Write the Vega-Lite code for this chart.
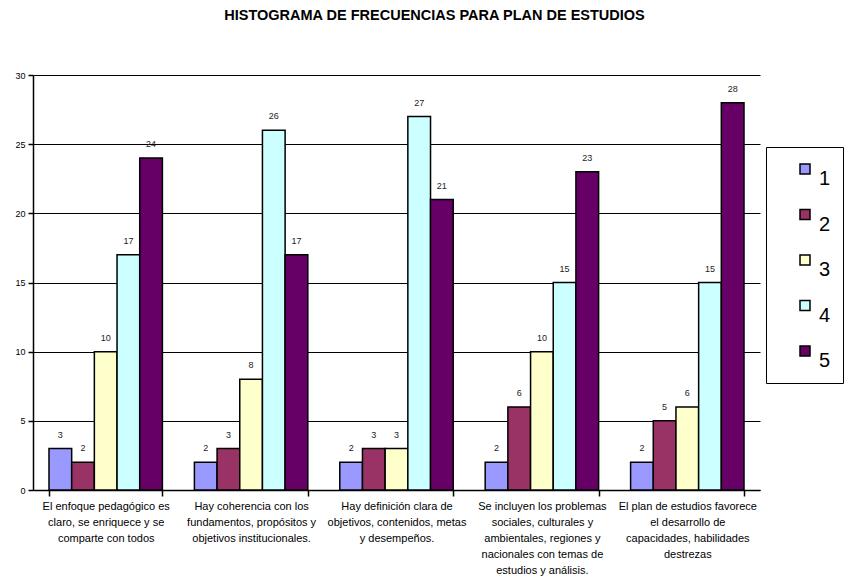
{
  "$schema": "https://vega.github.io/schema/vega-lite/v6.json",
  "autosize": "none",
  "width": 727,
  "height": 415,
  "padding": {"left": 33, "top": 75, "right": 88, "bottom": 89},
  "background": "white",
  "title": {
    "text": "HISTOGRAMA DE FRECUENCIAS PARA PLAN DE ESTUDIOS",
    "font": "Liberation Sans",
    "fontSize": 14.5,
    "fontWeight": "bold",
    "color": "black",
    "anchor": "middle",
    "dx": 38,
    "offset": 48
  },
  "data": {
    "values": [
      {"criterio": "El enfoque  pedagógico es|claro, se enriquece y se|comparte con todos", "nivel": "1", "frecuencia": 3},
      {"criterio": "El enfoque  pedagógico es|claro, se enriquece y se|comparte con todos", "nivel": "2", "frecuencia": 2},
      {"criterio": "El enfoque  pedagógico es|claro, se enriquece y se|comparte con todos", "nivel": "3", "frecuencia": 10},
      {"criterio": "El enfoque  pedagógico es|claro, se enriquece y se|comparte con todos", "nivel": "4", "frecuencia": 17},
      {"criterio": "El enfoque  pedagógico es|claro, se enriquece y se|comparte con todos", "nivel": "5", "frecuencia": 24},
      {"criterio": "Hay coherencia con los|fundamentos, propósitos y|objetivos institucionales.", "nivel": "1", "frecuencia": 2},
      {"criterio": "Hay coherencia con los|fundamentos, propósitos y|objetivos institucionales.", "nivel": "2", "frecuencia": 3},
      {"criterio": "Hay coherencia con los|fundamentos, propósitos y|objetivos institucionales.", "nivel": "3", "frecuencia": 8},
      {"criterio": "Hay coherencia con los|fundamentos, propósitos y|objetivos institucionales.", "nivel": "4", "frecuencia": 26},
      {"criterio": "Hay coherencia con los|fundamentos, propósitos y|objetivos institucionales.", "nivel": "5", "frecuencia": 17},
      {"criterio": "Hay definición  clara de|objetivos, contenidos, metas|y desempeños.", "nivel": "1", "frecuencia": 2},
      {"criterio": "Hay definición  clara de|objetivos, contenidos, metas|y desempeños.", "nivel": "2", "frecuencia": 3},
      {"criterio": "Hay definición  clara de|objetivos, contenidos, metas|y desempeños.", "nivel": "3", "frecuencia": 3},
      {"criterio": "Hay definición  clara de|objetivos, contenidos, metas|y desempeños.", "nivel": "4", "frecuencia": 27},
      {"criterio": "Hay definición  clara de|objetivos, contenidos, metas|y desempeños.", "nivel": "5", "frecuencia": 21},
      {"criterio": "Se incluyen los problemas|sociales, culturales y|ambientales, regiones y|nacionales con temas de|estudios y análisis.", "nivel": "1", "frecuencia": 2},
      {"criterio": "Se incluyen los problemas|sociales, culturales y|ambientales, regiones y|nacionales con temas de|estudios y análisis.", "nivel": "2", "frecuencia": 6},
      {"criterio": "Se incluyen los problemas|sociales, culturales y|ambientales, regiones y|nacionales con temas de|estudios y análisis.", "nivel": "3", "frecuencia": 10},
      {"criterio": "Se incluyen los problemas|sociales, culturales y|ambientales, regiones y|nacionales con temas de|estudios y análisis.", "nivel": "4", "frecuencia": 15},
      {"criterio": "Se incluyen los problemas|sociales, culturales y|ambientales, regiones y|nacionales con temas de|estudios y análisis.", "nivel": "5", "frecuencia": 23},
      {"criterio": "El plan de estudios favorece|el desarrollo de|capacidades, habilidades|destrezas", "nivel": "1", "frecuencia": 2},
      {"criterio": "El plan de estudios favorece|el desarrollo de|capacidades, habilidades|destrezas", "nivel": "2", "frecuencia": 5},
      {"criterio": "El plan de estudios favorece|el desarrollo de|capacidades, habilidades|destrezas", "nivel": "3", "frecuencia": 6},
      {"criterio": "El plan de estudios favorece|el desarrollo de|capacidades, habilidades|destrezas", "nivel": "4", "frecuencia": 15},
      {"criterio": "El plan de estudios favorece|el desarrollo de|capacidades, habilidades|destrezas", "nivel": "5", "frecuencia": 28}
    ]
  },
  "encoding": {
    "x": {
      "field": "criterio",
      "type": "nominal",
      "sort": null,
      "scale": {"paddingInner": 0.22, "paddingOuter": 0.11},
      "axis": {
        "title": null,
        "labelAngle": 0,
        "labelExpr": "split(datum.label, '|')",
        "labelFont": "Liberation Sans",
        "labelFontSize": 11,
        "labelLineHeight": 16,
        "labelColor": "black",
        "labelPadding": 4,
        "labelLimit": 0,
        "tickBand": "extent",
        "tickSize": 6,
        "tickColor": "black",
        "tickWidth": 1.5,
        "domainColor": "black",
        "domainWidth": 1.5,
        "grid": false
      }
    },
    "xOffset": {"field": "nivel", "type": "nominal", "scale": {"paddingInner": 0, "paddingOuter": 0}},
    "y": {
      "field": "frecuencia",
      "type": "quantitative",
      "scale": {"domain": [0, 30], "nice": false},
      "axis": {
        "title": null,
        "values": [0, 5, 10, 15, 20, 25, 30],
        "labelFont": "Liberation Sans",
        "labelFontSize": 9,
        "labelColor": "black",
        "labelPadding": 3,
        "tickSize": 5,
        "tickColor": "black",
        "tickWidth": 1.5,
        "domainColor": "black",
        "domainWidth": 1.5,
        "grid": true,
        "gridColor": "black",
        "gridWidth": 1,
        "gridOpacity": 1
      }
    }
  },
  "layer": [
    {
      "mark": {"type": "bar", "stroke": "black", "strokeWidth": 1.5},
      "encoding": {
        "color": {
          "field": "nivel",
          "type": "nominal",
          "scale": {"domain": ["1", "2", "3", "4", "5"], "range": ["#9999FF", "#993366", "#FFFFCC", "#CCFFFF", "#660066"]},
          "legend": {
            "title": null,
            "orient": "none",
            "legendX": 733,
            "legendY": 72,
            "direction": "vertical",
            "strokeColor": "black",
            "fillColor": "white",
            "padding": 12,
            "symbolType": "square",
            "symbolSize": 100,
            "symbolStrokeColor": "black",
            "symbolStrokeWidth": 1.5,
            "symbolOffset": 17,
            "labelExpr": "datum.label + '      '",
            "labelFont": "Liberation Sans",
            "labelFontSize": 20,
            "labelColor": "black",
            "labelBaseline": "top",
            "labelOffset": 4,
            "rowPadding": 15.5,
            "columnPadding": 0
          }
        }
      }
    },
    {
      "mark": {"type": "text", "baseline": "bottom", "dy": -9, "font": "Liberation Sans", "fontSize": 9, "color": "#222222"},
      "encoding": {"text": {"field": "frecuencia", "type": "quantitative"}}
    }
  ],
  "config": {"view": {"stroke": null}}
}
